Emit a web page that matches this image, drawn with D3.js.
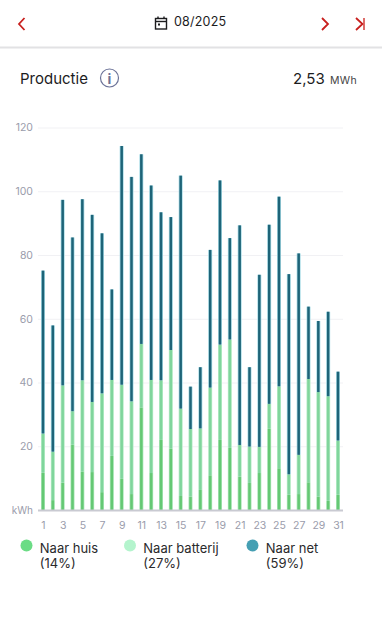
<!DOCTYPE html>
<html>
<head>
	<meta charset="utf-8">
	<title>Productie</title>
	<style>
		html, body { margin: 0; padding: 0; background: #fff; }
		svg { display: block; }
		text { font-family: Inter, "Noto Sans", sans-serif; }
	</style>
</head>
<body>
	<svg width="382" height="640"></svg>
<script src="https://cdn.jsdelivr.net/npm/d3@7"></script>
<script>
	// days of the month
	const days = d3.range(1, 32)
	const yTicks = [20, 40, 60, 80, 100, 120]
	const seriesNames = ["huis", "batterij", "net"]
	// kWh per day
	const huis = [11.7, 3.1, 8.6, 20.5, 12.1, 11.9, 5.6, 17, 9.8, 5, 32.2, 11.6, 22, 19.3, 4.4, 4.2,
		6.3, 10.9, 22, 19.5, 10.5, 8.5, 11.6, 25.5, 13.1, 4.8, 5, 8.7, 4.2, 2.9, 4.8]
	const batterij = [12.3, 15.2, 30.5, 10.5, 28.6, 22, 31, 23.8, 29.5, 29.1, 19.9, 29.2, 18.7, 30.9, 27.4, 21.2,
		19.3, 27.5, 29.9, 34, 9.9, 11.4, 8.2, 7.8, 25.7, 6.4, 12.3, 32.4, 32.8, 32.8, 17]
	const net = [51.1, 39.6, 58.2, 54.5, 56.8, 58.7, 50.2, 28.4, 74.9, 70.4, 59.5, 61, 52.7, 41.7, 73.1, 13.3,
		19.2, 43.2, 51.5, 31.8, 68.9, 24.9, 54, 56.2, 59.5, 62.8, 63.2, 22.7, 22.3, 26.5, 21.6]
	const legendNames = ["Naar huis", "Naar batterij", "Naar net"]
	const legendShares = ["(14%)", "(27%)", "(59%)"]

	const svg = d3.select("svg")
	const red = "#c8201e"
	const ink = "#1c1c1e"

	// top bar
	function chevron(points, w) {
		svg.append("path")
			.attr("d", d3.line()(points))
			.attr("fill", "none").attr("stroke", red)
			.attr("stroke-width", w || 1.8)
	}
	chevron([[24.5, 18], [19, 24], [24.5, 30]])
	chevron([[322, 18], [328, 24], [322, 30]])
	chevron([[356, 18], [362.5, 24], [356, 30]])
	svg.append("line").attr("x1", 364).attr("x2", 364).attr("y1", 18).attr("y2", 30)
		.attr("stroke", "#d23c38").attr("stroke-width", 1.5)

	// calendar icon
	const cal = svg.append("g").attr("fill", "none").attr("stroke", ink).attr("stroke-width", 1.4)
	cal.append("rect").attr("x", 155.5).attr("y", 18.5).attr("width", 11).attr("height", 10.5)
	cal.append("line").attr("x1", 155.5).attr("x2", 166.5).attr("y1", 21.5).attr("y2", 21.5)
	cal.append("line").attr("x1", 158).attr("x2", 158).attr("y1", 16.5).attr("y2", 18.5)
	cal.append("line").attr("x1", 164).attr("x2", 164).attr("y1", 16.5).attr("y2", 18.5)
	svg.append("rect").attr("x", 158).attr("y", 23.5).attr("width", 2).attr("height", 2).attr("fill", ink)

	svg.append("text").attr("x", 174).attr("y", 26)
		.attr("font-size", 12.5).attr("letter-spacing", 0.2).attr("fill", ink).text("08/2025")

	svg.append("rect").attr("x", 0).attr("y", 46.5).attr("width", 382).attr("height", 2).attr("fill", "#e2e2e4")

	// title row
	svg.append("text").attr("x", 20).attr("y", 84)
		.attr("font-size", 15).attr("fill", ink).text("Productie")
	svg.append("circle").attr("cx", 109.5).attr("cy", 78).attr("r", 9)
		.attr("fill", "none").attr("stroke", "#6c7398").attr("stroke-width", 1.2)
	svg.append("text").attr("x", 109.5).attr("y", 83.5).attr("text-anchor", "middle")
		.attr("font-family", "DejaVu Serif").attr("font-size", 14).attr("font-weight", "bold")
		.attr("fill", "#6c7398").text("i")
	svg.append("text").attr("x", 293).attr("y", 84)
		.attr("font-size", 15).attr("fill", ink).text("2,53")
	svg.append("text").attr("x", 330).attr("y", 84)
		.attr("font-size", 10.5).attr("letter-spacing", 0.3).attr("fill", "#444").text("MWh")

	// scales
	const x = d3.scaleLinear().domain([1, 31]).range([43, 338])
	const y = d3.scaleLinear().domain([0, 120]).range([510, 127.5])

	// grid and y axis
	const yAxis = svg.append("g").attr("transform", "translate(38,0)")
		.call(d3.axisLeft(y).tickValues(yTicks).tickSize(0).tickPadding(5))
	yAxis.select(".domain").remove()
	yAxis.selectAll("text").attr("font-size", 10.5).attr("fill", "#9a9cab")
		.style("font-family", "Inter, 'Noto Sans', sans-serif")
	yAxis.selectAll(".tick line")
		.attr("x2", 305).attr("stroke", "#f1f1f4").attr("stroke-width", 1)

	// stacked bars
	const rows = days.map((d, i) => ({ day: d, huis: huis[i], batterij: batterij[i], net: net[i] }))
	const stacked = d3.stack().keys(seriesNames)(rows)
	const barColor = d3.scaleOrdinal().domain(seriesNames).range(["#65c874", "#80d59c", "#1e6478"])
	const haloColor = d3.scaleOrdinal().domain(seriesNames).range(["#a9e6b6", "#b6ecc7", "#a8dbe6"])
	const groups = svg.append("g").selectAll("g").data(stacked).enter().append("g")
	// pale edge around each bar
	groups.selectAll("rect.halo").data(s => s.map(p => ({ key: s.key, p }))).enter().append("rect")
		.attr("class", "halo")
		.attr("x", d => x(d.p.data.day) - 2)
		.attr("width", 4)
		.attr("y", d => y(d.p[1]))
		.attr("height", d => y(d.p[0]) - y(d.p[1]))
		.attr("fill", d => haloColor(d.key))
	groups.selectAll("rect.core").data(s => s.map(p => ({ key: s.key, p }))).enter().append("rect")
		.attr("class", "core")
		.attr("x", d => x(d.p.data.day) - 1.25)
		.attr("width", 2.5)
		.attr("y", d => y(d.p[1]))
		.attr("height", d => y(d.p[0]) - y(d.p[1]))
		.attr("fill", d => barColor(d.key))

	// x axis
	svg.append("rect").attr("x", 38).attr("y", 509.5).attr("width", 305).attr("height", 2).attr("fill", "#c9cad2")
	svg.append("text").attr("x", 33).attr("y", 513.5).attr("text-anchor", "end")
		.attr("font-size", 10).attr("fill", "#9a9cab").text("kWh")
	const xAxis = svg.append("g").attr("transform", "translate(0,519)")
		.call(d3.axisBottom(x).tickValues(days.filter(d => d % 2 == 1)).tickSize(0).tickPadding(3).tickFormat(d3.format("d")))
	xAxis.select(".domain").remove()
	xAxis.selectAll("text").attr("font-size", 10.5).attr("fill", "#9a9cab")
		.style("font-family", "Inter, 'Noto Sans', sans-serif")

	// legend
	const legendX = [26.5, 130, 252.5]
	const legendColor = ["#6bdc85", "#b4f4cd", "#459fb3"]
	const legend = svg.append("g").selectAll("g").data(legendNames).enter().append("g")
		.attr("transform", (d, i) => `translate(${legendX[i]},0)`)
	legend.append("circle").attr("cy", 545.5).attr("r", 6)
		.attr("fill", (d, i) => legendColor[i])
	legend.append("text").attr("x", 13.3).attr("y", 553)
		.attr("font-size", 13).attr("fill", "#2a2a2c").text(d => d)
	legend.append("text").attr("x", 13.3).attr("y", 568)
		.attr("font-size", 13).attr("fill", "#2a2a2c").text((d, i) => legendShares[i])
</script>
</body>
</html>
